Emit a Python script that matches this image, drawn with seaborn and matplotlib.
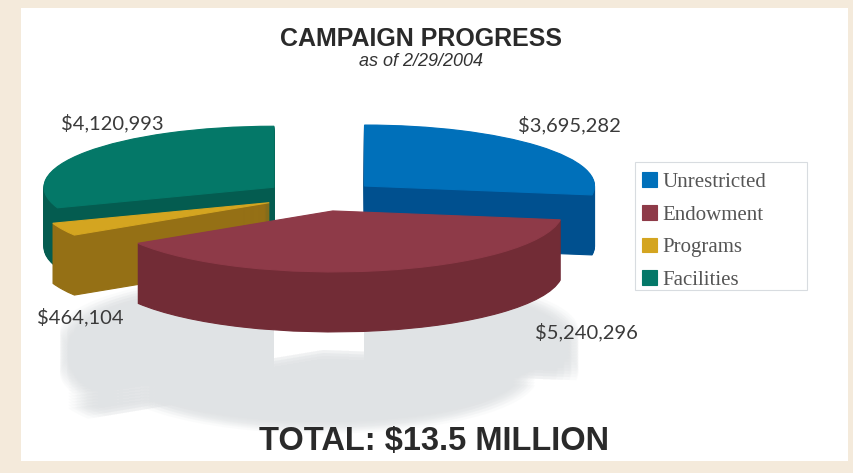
import matplotlib
matplotlib.use('Agg')
import matplotlib.pyplot as plt
from matplotlib.patches import Rectangle
import seaborn as sns

categories = ['Unrestricted', 'Endowment', 'Programs', 'Facilities']
amounts = [3695282, 5240296, 464104, 4120993]
top_colors = ['#0070BA', '#8E3A48', '#D4A520', '#047868']
wall_colors = ['#00508F', '#722C36', '#957015', '#045C50']
draw_order = [0, 3, 2, 1]  # back slices first

W, H = 854, 473
sns.set_theme(style='white')
plt.rcParams['font.family'] = ['Liberation Sans', 'DejaVu Sans']

fig = plt.figure(figsize=(W / 100, H / 100), dpi=100, facecolor='#F4EADB')
# white panel inside the beige border
left, right, top, bottom = 21, 848, 8, 461
ax = fig.add_axes([left / W, 1 - bottom / H, (right - left) / W, (bottom - top) / H])

rx, ry = 230, 61  # pixels per data unit, squashes the pie
cx, cy = 321, 196


def draw_pie(center_y, radius, colors, alpha=None, base_z=None, explode=None):
    wedges, _ = ax.pie(amounts, colors=colors, startangle=90, counterclock=False,
                       explode=explode or [0.25] * 4, radius=radius, center=(0, center_y),
                       wedgeprops={'alpha': alpha})
    for i, w in enumerate(wedges):
        w.set_edgecolor('none' if alpha else colors[i])
        w.set_linewidth(0 if alpha else 0.8)
        if base_z is not None:
            w.set_zorder(base_z[i])
    return wedges


# soft shadow under the pie, many faint layers so the edges fade out
for r in [0.84, 0.87, 0.90, 0.93]:
    for dy in range(-6, 38, 3):
        back = draw_pie(-(150 + dy) / ry, r, ['#E0E3E5'] * 4, alpha=0.13, base_z=[1] * 4)
        back[1].set_visible(False)
    for dy in range(-6, 22, 3):
        front = draw_pie(-(157 + dy) / ry, r, ['#E0E3E5'] * 4, alpha=0.13, base_z=[1] * 4,
                         explode=[0.25, 0.05, 0.25, 0.25])
        for i in [0, 2, 3]:
            front[i].set_visible(False)

z = [0] * 4
for rank, i in enumerate(draw_order):
    z[i] = 2 + rank

# side walls as stacked pies, lowest first
for step in range(60, 0, -1):
    draw_pie(-step / ry, 1, wall_colors, base_z=z)
top_wedges = draw_pie(0, 1, top_colors, base_z=z)

ax.set_aspect('auto')
ax.set_xlim((left - cx) / rx, (right - cx) / rx)
ax.set_ylim((cy - bottom) / ry, (cy - top) / ry)
ax.set_frame_on(True)
ax.patch.set_facecolor('white')
sns.despine(ax=ax, left=True, bottom=True)
ax.set_xticks([])
ax.set_yticks([])


def px_text(x, y, s, **kw):
    fig.text(x / W, 1 - y / H, s, va='center', **kw)


px_text(421, 39, 'CAMPAIGN PROGRESS', ha='center', fontsize=18, fontweight='bold', color='#2A2A2A')
px_text(421, 62, 'as of 2/29/2004', ha='center', fontsize=13, style='italic', color='#333333')
px_text(434, 441, 'TOTAL: $13.5 MILLION', ha='center', fontsize=23.5, fontweight='bold', color='#2A2A2A')

label_pos = [(569, 125), (586, 332), (80, 317), (112, 123)]
for (x, y), v in zip(label_pos, amounts):
    px_text(x, y, f'${v:,}', ha='center', fontsize=14.5, color='#3A3A3A', family=['Lato', 'DejaVu Sans'])

ax.add_patch(Rectangle((635 / W, 1 - 290 / H), 172 / W, 128 / H, transform=fig.transFigure,
                       facecolor='white', edgecolor='#D8DCE0', linewidth=0.8, zorder=15, clip_on=False))
leg = ax.legend(top_wedges, categories, loc='upper left',
                bbox_to_anchor=(634 / W, 1 - 164 / H), bbox_transform=fig.transFigure,
                frameon=False, handlelength=0.72, handleheight=0.72, handletextpad=0.25,
                labelspacing=0.62, borderpad=0.4, borderaxespad=0,
                prop={'family': 'Liberation Serif', 'size': 15}, labelcolor='#555555')
leg.set_zorder(20)

fig.savefig('out.png', dpi=100, facecolor=fig.get_facecolor())
